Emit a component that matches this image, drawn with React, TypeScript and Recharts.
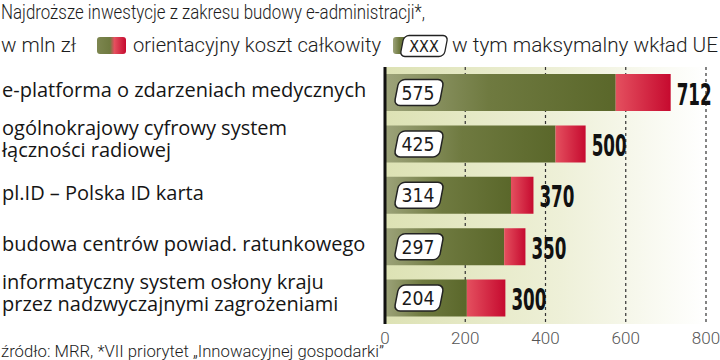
import { BarChart, Bar, XAxis, YAxis, CartesianGrid, LabelList } from 'recharts'

const categories = [
  'e-platforma o zdarzeniach medycznych',
  'ogólnokrajowy cyfrowy system\nłączności radiowej',
  'pl.ID – Polska ID karta',
  'budowa centrów powiad. ratunkowego',
  'informatyczny system osłony kraju\nprzez nadzwyczajnymi zagrożeniami',
]
const euContribution = [575, 425, 314, 297, 204]
const totalCost = [712, 500, 370, 350, 300]
const xTicks = [0, 200, 400, 600, 800]

const data = categories.map((name, i) => ({
  name,
  eu: euContribution[i],
  rest: totalCost[i] - euContribution[i],
  total: totalCost[i],
}))

const headFont = 'Roboto, "Open Sans", sans-serif'
const numFont = '"DejaVu Sans Condensed", "DejaVu Sans", sans-serif'

function CategoryTick({ y, payload }: any) {
  const lines = String(payload.value).split('\n')
  const first = lines.length > 1 ? -9 : 4
  return (
    <text x={2} y={y} fontSize={20} fill="#151515" fontFamily='"Open Sans", sans-serif'>
      {lines.map((l, i) => (
        <tspan key={i} x={2} dy={i === 0 ? first : 22}>{l}</tspan>
      ))}
    </text>
  )
}

function EuBox({ x, y, height, value }: any) {
  const cx = x + 34
  const cy = y + height / 2
  return (
    <g transform={`translate(${cx},${cy})`}>
      <rect x={-22.5} y={-13} width={45} height={26} rx={6} fill="#fff" stroke="#222" strokeWidth={1.5} transform="skewX(-11)" />
      <text x={-1} y={7} textAnchor="middle" fontSize={19} fill="#1a1a1a" fontFamily={numFont} textLength={33} lengthAdjust="spacingAndGlyphs">
        {value}
      </text>
    </g>
  )
}

function TotalLabel({ x, y, width, height, value }: any) {
  return (
    <text x={x + width + 6} y={y + height / 2 + 12} fontSize={30} fontWeight="bold" fill="#111" fontFamily={numFont} textLength={35} lengthAdjust="spacingAndGlyphs">
      {value}
    </text>
  )
}

export default function App() {
  return (
    <div style={{ position: 'absolute', left: 0, top: 0, width: 720, height: 360, background: '#fff' }}>
      <BarChart layout="vertical" width={720} height={360} data={data} barSize={37} margin={{ top: 67, right: 14, bottom: 0, left: 0 }}>
        <defs>
          <linearGradient id="bgGrad" x1="0" y1="0" x2="1" y2="0">
            <stop offset="0%" stopColor="#dde2b4" />
            <stop offset="55%" stopColor="#eef0d8" />
            <stop offset="100%" stopColor="#ffffff" />
          </linearGradient>
          <linearGradient id="greenGrad" x1="0" y1="0" x2="1" y2="0">
            <stop offset="0%" stopColor="#9da37a" />
            <stop offset="45%" stopColor="#6f7a40" />
            <stop offset="100%" stopColor="#5a672a" />
          </linearGradient>
          <linearGradient id="redGrad" x1="0" y1="0" x2="1" y2="0">
            <stop offset="0%" stopColor="#e4505f" />
            <stop offset="100%" stopColor="#c60a2f" />
          </linearGradient>
        </defs>
        <CartesianGrid horizontal={false} vertical={false} fill="url(#bgGrad)" fillOpacity={1} />
        <XAxis
          type="number"
          domain={[0, 800]}
          ticks={xTicks}
          axisLine={false}
          tickLine={false}
          height={36}
          tick={{ fill: '#555', fontSize: 17, fontFamily: headFont, fontWeight: 300 }}
        />
        <YAxis
          type="category"
          dataKey="name"
          width={385}
          axisLine={{ stroke: '#111', strokeWidth: 3 }}
          tickLine={false}
          tick={<CategoryTick />}
        />
        <Bar dataKey="eu" stackId="a" fill="url(#greenGrad)" isAnimationActive={false}>
          <LabelList dataKey="eu" content={<EuBox />} />
        </Bar>
        <Bar dataKey="rest" stackId="a" fill="url(#redGrad)" isAnimationActive={false}>
          <LabelList dataKey="total" content={<TotalLabel />} />
        </Bar>
        <CartesianGrid horizontal={false} stroke="#333" strokeWidth={1.2} strokeDasharray="3 3" />
      </BarChart>
      <svg width={720} height={360} style={{ position: 'absolute', left: 0, top: 0, pointerEvents: 'none' }}>
        <defs>
          <linearGradient id="legendGrad" x1="0" y1="0" x2="1" y2="0">
            <stop offset="0%" stopColor="#7d8650" />
            <stop offset="45%" stopColor="#6f7a40" />
            <stop offset="60%" stopColor="#e4505f" />
            <stop offset="100%" stopColor="#c60a2f" />
          </linearGradient>
        </defs>
        <g fontFamily={headFont} fontWeight={300} fill="#1c1c1c" fontSize={20}>
          <text x={1} y={19} textLength={424} lengthAdjust="spacingAndGlyphs">
            Najdroższe inwestycje z zakresu budowy e-administracji*,
          </text>
          <text x={1} y={52} textLength={75} lengthAdjust="spacingAndGlyphs">w mln zł</text>
          <rect x={97} y={37} width={29} height={17} rx={3} fill="url(#legendGrad)" />
          <text x={133} y={52} textLength={248} lengthAdjust="spacingAndGlyphs">orientacyjny koszt całkowity</text>
          <rect x={393} y={37} width={14} height={17} rx={3} fill="url(#greenGrad)" />
          <g transform="translate(424,46)">
            <rect x={-22} y={-10.5} width={44} height={21} rx={5} fill="#fff" stroke="#222" strokeWidth={1.3} transform="skewX(-11)" />
            <text x={0} y={6} textAnchor="middle" fontSize={16} fontFamily={numFont} fontWeight={400} fill="#1a1a1a">XXX</text>
          </g>
          <text x={452} y={52} textLength={266} lengthAdjust="spacingAndGlyphs">w tym maksymalny wkład UE</text>
          <text x={1} y={357} fontSize={16} textLength={383} lengthAdjust="spacingAndGlyphs">
            źródło: MRR, *VII priorytet „Innowacyjnej gospodarki”
          </text>
        </g>
      </svg>
    </div>
  )
}
